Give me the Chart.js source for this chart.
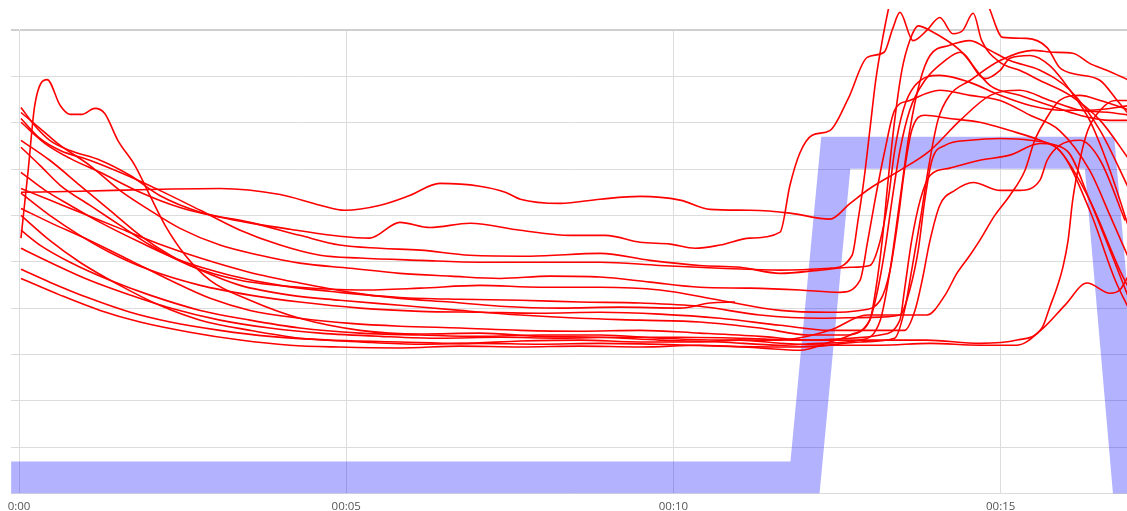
<!DOCTYPE html>
<html>
<head>
<meta charset="utf-8">
<script src="https://cdn.jsdelivr.net/npm/chart.js@4/dist/chart.umd.min.js"></script>
<style>
html,body{margin:0;padding:0;background:#fff}
#wrap{width:1127px;height:511px;position:relative}
</style>
</head>
<body>
<div id="wrap"><canvas id="chart"></canvas></div>
<script>
// time in minutes, level in % of the (unlabelled) y range
const tickValues = [0, 5, 10, 15]
const tickLabels = ["0:00", "00:05", "00:10", "00:15"]

const blueTimes = [-0.12, 12.01, 12.48, 16.51, 16.99]
const blueLevels = [3.45, 3.45, 73.5, 73.5, -4.8]

const s1 = [[0.03,65.0],[0.93,65.2],[2.00,65.6],[3.07,65.8],[3.99,64.5],[4.60,62.2],[4.98,61.1],[5.52,62.2],[5.97,64.3],[6.43,66.9],[7.04,66.3],[7.43,65.0],[7.66,63.5],[8.27,62.6],[8.88,63.5],[9.49,64.1],[10.10,63.3],[10.56,61.3],[11.17,61.1],[11.78,60.5],[12.39,59.2],[12.70,62.6],[13.00,65.8],[13.46,69.7],[13.92,74.0],[14.38,80.5],[14.84,85.9],[15.29,87.0],[15.75,84.8],[16.21,82.7],[16.67,82.2],[16.97,81.6]]
const s2 = [[0.03,80.1],[0.40,75.5],[0.78,72.3],[1.24,69.3],[1.85,65.0],[2.46,61.7],[3.22,59.2],[4.14,57.0],[4.90,55.5],[5.36,55.1],[5.82,58.5],[6.28,57.4],[6.89,58.3],[7.66,56.8],[8.42,55.7],[8.96,55.7],[9.49,54.2],[9.95,53.8],[10.33,52.9],[10.71,53.6],[11.17,55.1],[11.63,56.4],[11.78,66.5],[11.93,73.4],[12.12,77.3],[12.39,78.3],[12.67,85.2],[12.96,94.1],[13.22,95.2],[13.35,100.3],[13.46,103.8],[13.66,97.7],[13.87,99.9],[14.07,102.7],[14.27,99.2],[14.42,99.9],[14.58,103.6],[14.71,97.7],[14.99,93.0],[15.29,91.3],[15.60,89.1],[16.06,85.9],[16.52,80.5],[16.97,71.9]]
const s3 = [[0.03,55.1],[0.14,69.7],[0.24,83.7],[0.43,89.3],[0.63,83.7],[0.78,81.8],[0.96,81.8],[1.16,83.1],[1.31,82.0],[1.51,76.2],[1.77,70.8],[2.00,64.3],[2.23,57.9],[2.54,51.4],[2.92,46.0],[3.53,41.7],[4.29,37.8],[5.21,35.2],[6.13,34.4],[7.04,34.6],[7.96,33.9],[8.88,33.7],[9.79,33.1],[10.71,32.7],[11.63,32.0],[12.24,32.4],[12.85,33.1],[13.16,37.4],[13.31,48.2],[13.46,63.3],[13.61,78.3],[13.77,89.1],[13.92,94.5],[14.22,96.7],[14.53,97.7],[14.84,95.6],[15.14,93.4],[15.60,91.3],[16.06,87.0],[16.52,78.3],[16.97,65.4]]
const s4 = [[0.03,83.3],[0.24,79.4],[0.47,76.2],[0.78,74.0],[1.24,71.9],[1.70,68.6],[2.15,64.3],[2.77,60.7],[3.53,58.5],[4.29,55.7],[4.90,53.6],[5.52,52.9],[6.13,52.5],[6.89,51.4],[7.81,51.2],[8.88,51.8],[9.64,50.3],[10.40,49.2],[11.02,48.8],[11.63,47.5],[12.24,48.2],[12.70,48.8],[13.00,49.2],[13.16,54.6],[13.28,63.3],[13.38,74.0],[13.51,82.7],[13.69,88.0],[14.07,90.2],[14.53,88.7],[14.99,85.9],[15.45,83.7],[15.90,82.7],[16.36,82.7],[16.97,83.7]]
const s5 = [[0.03,82.2],[0.32,78.8],[0.63,75.1],[1.08,70.8],[1.54,65.4],[2.00,61.1],[2.46,57.2],[3.07,53.6],[3.68,51.4],[4.29,49.7],[5.06,48.6],[5.82,47.5],[6.59,46.9],[7.35,46.4],[8.11,46.9],[8.88,46.7],[9.64,45.6],[10.40,44.5],[11.17,44.3],[11.93,43.9],[12.54,43.4],[12.85,46.0],[12.97,54.6],[13.08,63.3],[13.23,74.0],[13.38,82.7],[13.61,84.8],[14.07,87.0],[14.53,85.9],[14.99,84.8],[15.45,81.6],[15.90,78.3],[16.36,69.7],[16.67,60.0],[16.97,50.3]]
const s6 = [[0.03,80.9],[0.32,76.6],[0.63,74.0],[1.08,71.9],[1.54,69.3],[2.15,65.4],[2.77,61.1],[3.38,56.8],[3.99,53.6],[4.60,51.4],[5.21,50.8],[6.13,50.3],[7.04,49.9],[7.96,49.9],[8.88,49.9],[9.79,49.2],[10.71,48.6],[11.63,48.2],[12.39,48.6],[12.73,51.4],[12.82,58.9],[12.91,67.6],[13.00,78.3],[13.09,89.1],[13.19,97.7],[13.28,104.2],[13.38,110.7],[14.68,110.7],[14.84,104.2],[15.03,98.4],[15.40,98.2],[15.71,96.2],[15.90,91.9],[16.10,90.6],[16.52,89.1],[16.78,84.8],[16.97,81.6]]
const s7 = [[0.03,74.7],[0.32,70.8],[0.63,66.5],[1.08,62.2],[1.54,57.9],[2.00,53.6],[2.61,49.2],[3.38,46.0],[4.29,44.5],[5.21,43.9],[6.13,44.3],[7.04,44.9],[7.96,44.5],[8.88,44.5],[9.79,43.9],[10.71,41.7],[11.63,39.5],[12.39,39.1],[12.85,39.5],[13.16,41.7],[13.31,48.2],[13.43,58.9],[13.53,69.7],[13.64,78.3],[13.84,81.6],[14.22,80.9],[14.68,80.1],[15.14,78.3],[15.60,76.2],[15.90,74.0],[16.36,63.3],[16.82,48.2],[16.97,43.9]]
const s8 = [[0.03,69.3],[0.40,65.4],[0.78,62.2],[1.24,58.5],[1.85,54.2],[2.46,50.3],[3.22,47.1],[3.99,44.9],[4.90,43.4],[5.82,42.3],[6.74,41.9],[7.66,41.7],[8.57,41.3],[9.49,41.1],[10.40,40.4],[11.32,38.5],[12.24,37.8],[13.00,38.0],[13.46,38.5],[13.61,43.9],[13.74,52.5],[13.84,63.3],[13.95,71.9],[14.15,75.1],[14.53,76.2],[14.99,76.6],[15.45,76.2],[15.90,74.0],[16.36,61.1],[16.75,46.0],[16.97,39.5]]
const s9 = [[0.03,65.8],[0.47,63.3],[0.93,60.7],[1.54,57.2],[2.15,53.8],[2.77,50.8],[3.53,47.7],[4.29,45.4],[5.06,43.4],[5.82,42.1],[6.59,41.3],[7.35,40.4],[8.27,40.0],[9.18,40.2],[10.10,40.0],[10.56,41.1],[10.94,41.3]]
const s10 = [[0.03,64.8],[0.47,60.0],[0.93,55.7],[1.39,52.0],[2.00,48.2],[2.77,44.9],[3.53,42.8],[4.29,41.3],[5.21,40.0],[6.13,39.3],[7.04,39.1],[7.96,38.9],[8.88,39.1],[9.79,38.7],[10.71,37.8],[11.63,36.3],[12.39,35.2],[13.16,35.2],[13.53,35.2],[13.69,39.5],[13.80,46.0],[13.92,54.6],[14.07,62.2],[14.30,65.4],[14.58,67.1],[14.99,65.4],[15.29,65.4],[15.60,67.6],[15.71,71.9],[15.90,75.1],[16.21,76.2],[16.52,71.9],[16.90,58.9]]
const s11 = [[0.03,61.5],[0.47,58.5],[1.08,54.6],[1.70,50.3],[2.31,46.0],[2.92,42.1],[3.53,39.5],[4.29,37.8],[5.06,36.7],[5.82,36.1],[6.74,35.7],[7.66,35.2],[8.57,35.0],[9.49,35.2],[10.40,34.6],[11.32,33.9],[12.09,33.1],[12.70,33.5],[13.16,34.2],[13.46,37.4],[13.53,43.9],[13.64,54.6],[13.77,63.3],[13.92,68.6],[14.22,70.2],[14.68,71.9],[15.14,73.0],[15.60,75.5],[16.01,74.0],[16.36,63.3],[16.67,52.5],[16.97,41.7]]
const s12 = [[0.03,56.8],[0.32,53.6],[0.78,49.9],[1.39,46.0],[2.00,42.8],[2.77,39.5],[3.53,37.4],[4.29,35.7],[5.21,34.6],[6.13,34.2],[7.04,33.9],[7.96,34.2],[8.88,34.2],[9.79,33.5],[10.71,33.1],[11.63,33.1],[12.39,35.2],[12.96,38.5],[13.87,38.5],[14.15,42.8],[14.33,47.5],[14.53,51.4],[14.68,54.6],[14.91,60.0],[15.14,64.3],[15.37,69.7],[15.52,76.2],[15.68,80.5],[15.90,84.8],[16.21,85.9],[16.52,84.8],[16.97,82.7]]
const s13 = [[0.03,52.9],[0.47,49.9],[1.08,46.0],[1.70,42.8],[2.31,40.0],[3.07,37.4],[3.83,35.7],[4.60,34.6],[5.52,33.9],[6.43,33.5],[7.35,33.7],[8.27,33.5],[9.18,33.7],[10.10,33.7],[11.02,33.5],[11.93,33.1],[12.85,33.1],[13.87,33.1],[14.68,32.4],[15.25,33.1],[15.63,35.7],[15.75,40.2],[15.87,44.9],[15.95,48.8],[16.03,54.6],[16.10,63.3],[16.21,71.9],[16.33,78.3],[16.52,82.7],[16.75,84.8],[16.97,84.8]]
const s14 = [[0.03,48.4],[0.47,45.6],[1.08,42.1],[1.70,39.1],[2.31,37.0],[3.07,35.2],[3.83,33.9],[4.75,33.1],[5.82,32.7],[6.74,32.4],[7.66,32.9],[8.57,33.1],[9.49,32.7],[10.40,32.7],[11.02,33.1],[11.63,32.4],[12.39,32.0],[13.16,32.0],[13.92,32.4],[14.68,32.0],[15.25,32.0],[15.65,35.7],[15.98,40.6],[16.32,45.4],[16.67,43.2],[16.82,43.9],[16.97,47.5]]
const s15 = [[0.03,46.4],[0.63,42.8],[1.24,39.5],[1.85,37.0],[2.61,34.8],[3.38,33.1],[4.14,32.0],[4.90,31.6],[5.82,31.4],[6.74,31.8],[7.66,31.6],[8.57,31.8],[9.49,31.6],[10.40,32.0],[11.32,31.4],[11.93,30.9],[12.39,32.7],[12.70,34.2],[13.00,37.4],[13.12,43.9],[13.23,52.5],[13.34,63.3],[13.46,74.0],[13.61,82.7],[13.84,89.1],[14.15,93.4],[14.38,95.2],[14.76,89.5],[14.99,91.3],[15.14,93.9],[15.45,94.5],[15.75,92.3],[16.06,87.0],[16.36,80.5],[16.67,69.7],[16.97,56.8]]
const s16 = [[0.03,76.2],[0.47,71.9],[0.93,66.5],[1.39,61.1],[1.85,55.7],[2.31,51.4],[2.77,48.2],[3.38,44.9],[4.14,42.8],[4.90,41.7],[5.82,40.6],[6.74,39.5],[7.66,38.5],[8.57,37.8],[9.49,37.4],[10.40,37.0],[11.32,35.7],[12.09,34.2],[12.62,34.2],[13.00,37.4],[13.09,43.9],[13.19,54.6],[13.28,67.6],[13.38,80.5],[13.49,91.3],[13.61,97.7],[13.74,100.9],[13.92,99.9],[14.38,95.6],[14.84,88.0],[15.29,85.9],[15.75,83.7],[16.21,81.6],[16.67,80.5],[16.97,80.5]]
const s17 = [[0.03,60.0],[0.47,54.6],[0.93,49.9],[1.54,44.9],[2.15,40.6],[2.77,37.4],[3.53,35.2],[4.29,33.5],[5.21,32.7],[6.13,32.2],[7.04,32.4],[7.96,32.2],[8.88,32.4],[9.79,32.2],[10.71,31.8],[11.63,31.6],[12.24,31.8],[12.85,32.7],[13.38,33.5],[13.53,39.5],[13.64,48.2],[13.77,58.9],[13.89,69.7],[14.04,80.5],[14.22,85.9],[14.53,89.1],[14.99,93.4],[15.49,95.6],[15.80,95.2],[16.10,95.0],[16.36,92.8],[16.62,91.3],[16.97,89.1]]

const runs = [s1,s2,s3,s4,s5,s6,s7,s8,s9,s10,s11,s12,s13,s14,s15,s16,s17]

const gridColor = "#dcdcdc"

const datasets = runs.map((r, i) => ({
  label: "run " + (i + 1),
  data: r.map(p => ({x: p[0], y: p[1]})),
  borderColor: "#ff0000",
  borderWidth: 1.6,
  pointRadius: 0,
  fill: false,
  cubicInterpolationMode: "monotone",
  clip: {left: 0, top: 21, right: 0, bottom: 0},
  order: 0
}))

datasets.push({
  label: "setpoint",
  data: blueTimes.map((t, i) => ({x: t, y: blueLevels[i]})),
  borderColor: "rgba(0,0,255,0.3)",
  borderWidth: 32,
  borderJoinStyle: "miter",
  borderCapStyle: "butt",
  pointRadius: 0,
  tension: 0,
  fill: false,
  clip: {left: 9, top: 0, right: 0, bottom: 0},
  order: 1
})

new Chart(document.getElementById("chart"), {
  type: "line",
  data: {datasets: datasets},
  options: {
    responsive: true,
    maintainAspectRatio: false,
    animation: false,
    events: [],
    layout: {padding: {left: 11, right: 0, top: 30, bottom: 0}},
    plugins: {legend: {display: false}, tooltip: {enabled: false}},
    scales: {
      x: {
        type: "linear",
        min: 0,
        max: 16.93,
        afterBuildTicks: s => { s.ticks = tickValues.map(v => ({value: v})) },
        afterFit: s => { s.height = 17.5 },
        ticks: {
          color: "#555",
          padding: 6.5,
          maxRotation: 0,
          font: {family: "'Open Sans', 'Noto Sans', sans-serif", size: 11.5},
          callback: v => tickLabels[tickValues.indexOf(v)]
        },
        grid: {color: gridColor, drawTicks: false},
        border: {color: gridColor}
      },
      y: {
        min: 0,
        max: 100,
        ticks: {stepSize: 10, display: false},
        grid: {
          color: c => c.tick && c.tick.value === 100 ? "#cfcfcf" : gridColor,
          lineWidth: c => c.tick && c.tick.value === 100 ? 2 : 1,
          tickLength: 8
        },
        border: {color: gridColor}
      }
    }
  }
})
</script>
</body>
</html>
